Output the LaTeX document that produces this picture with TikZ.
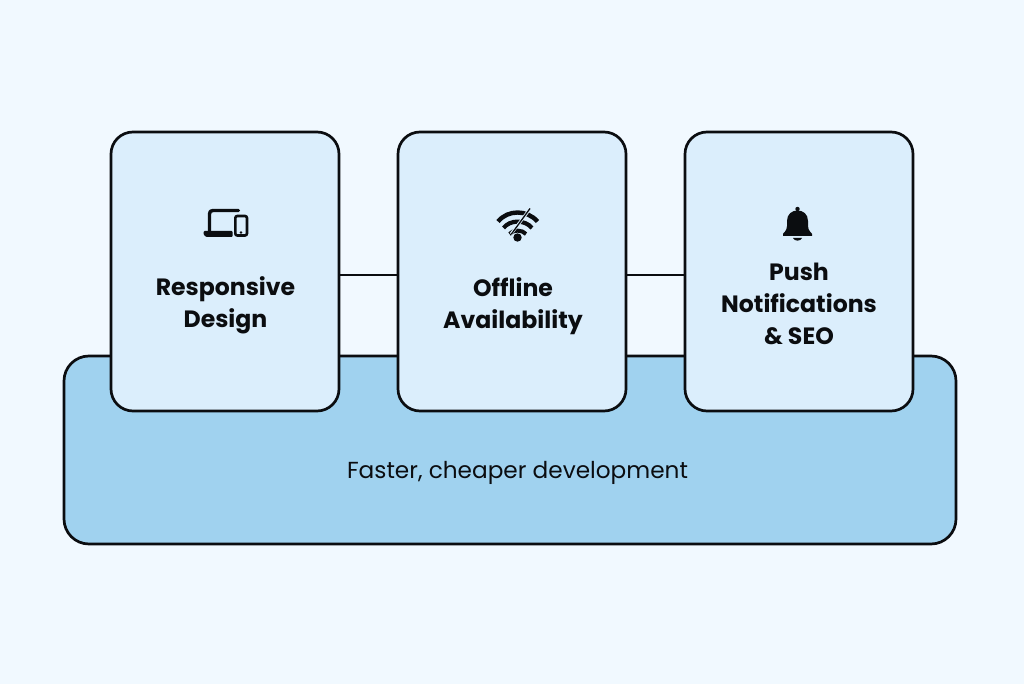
\documentclass[tikz,border=0pt]{standalone}
\usepackage{fontspec}
\setmainfont{Poppins}
\definecolor{bgc}{HTML}{F1F9FF}
\definecolor{cardc}{HTML}{DBEEFC}
\definecolor{basec}{HTML}{A0D2EF}
\definecolor{inkc}{HTML}{0B0D10}
\tikzset{
  card/.style={draw=inkc,line width=2.7pt,fill=cardc,rounded corners=22pt,minimum width=228pt,minimum height=279pt,inner sep=0pt,anchor=center},
  basebox/.style={draw=inkc,line width=2.7pt,fill=basec,rounded corners=25pt,minimum width=892pt,minimum height=188pt,inner sep=0pt},
  link/.style={draw=inkc,line width=2.7pt},
  cardtext/.style={font=\fontsize{23.6}{32}\selectfont\bfseries,align=center,text=inkc,inner sep=0pt},
  basetext/.style={font=\fontsize{23.2}{28}\selectfont,text=inkc,inner sep=0pt},
  iconline/.style={draw=inkc,line width=3.4pt},
  iconfill/.style={fill=inkc,draw=none}
}
\begin{document}
\begin{tikzpicture}[x=1pt,y=-1pt]
\useasboundingbox (0,0) rectangle (1024,684);
\fill[bgc] (0,0) rectangle (1024,684);
\node[basebox] (base) at (510,450) {};
\node[card] (a) at (225,271.5) {};
\node[card] (b) at (512,271.5) {};
\node[card] (c) at (799,271.5) {};
\draw[link] ([yshift=-3.5pt]a.east) -- ([yshift=-3.5pt]b.west);
\draw[link] ([yshift=-3.5pt]b.east) -- ([yshift=-3.5pt]c.west);
\node[cardtext] (ta) at (225.5,305) {Responsive\\Design};
\node[cardtext] (tb) at (513,306) {Offline\\Availability};
\node[cardtext] (tc) at (799,303.5) {Push\\Notifications\\\& SEO};
\node[basetext] (tbase) at (517.5,473) {Faster, cheaper development};
% laptop + phone
\draw[iconline,line cap=round,line join=round] (209.5,232) -- (209.5,214) .. controls (209.5,211.5) and (210.5,210.5) .. (213,210.5) -- (238.5,210.5);
\fill[iconfill,rounded corners=1pt] (203.5,231) -- (232.5,231) -- (232.5,237) -- (206,237) -- (203.5,234.5) -- cycle;
\draw[iconline,line width=2.6pt,rounded corners=2pt] (235.3,216) rectangle (247,235.5);
\fill[iconfill] (241,232.5) circle (1.3pt);
% wifi with slash
\draw[iconline,line width=4.4pt] (498,221.5) .. controls (508,209.5) and (527,209.5) .. (537.5,221.5);
\draw[iconline,line width=4.2pt] (503.5,228) .. controls (510,219.5) and (525,219.5) .. (532,228);
\draw[iconline,line width=4pt] (509.5,234) .. controls (513,229.5) and (522,229.5) .. (526,234);
\fill[iconfill] (517.5,237.5) circle (4.2pt);
\draw[draw=cardc,line width=3pt] (511,234) -- (531,207.5);
\draw[iconline,line width=1.3pt] (511.5,234) -- (530,208.5);
% bell
\fill[iconfill] (797.5,209) circle (2.2pt);
\fill[iconfill] (783,234) .. controls (783,233) and (787,231) .. (787,226) -- (787,221) .. controls (787,214) and (792,210.5) .. (797.5,210.5) .. controls (803,210.5) and (808,214) .. (808,221) -- (808,226) .. controls (808,231) and (812,233) .. (812,234) -- (812,236) -- (783,236) -- cycle;
\fill[iconfill] (793,238) .. controls (794,241.5) and (801,241.5) .. (802,238) -- cycle;
\end{tikzpicture}
\end{document}
